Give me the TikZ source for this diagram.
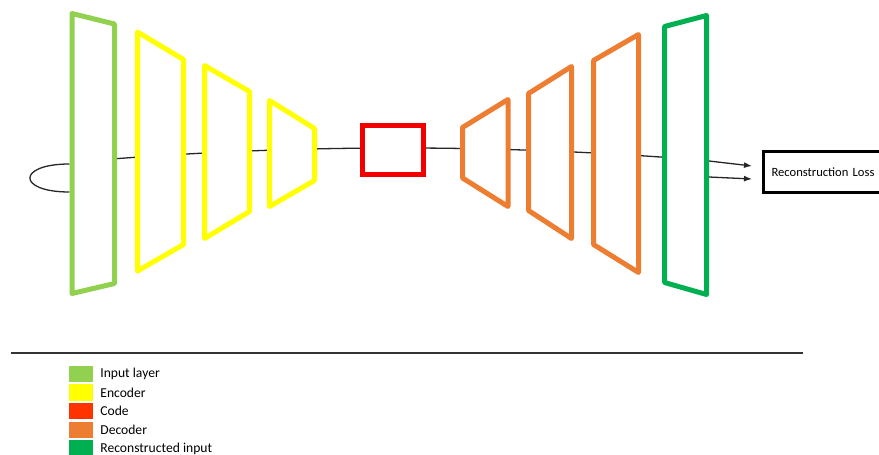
\documentclass[tikz,border=0pt]{standalone}
\usepackage{fontspec}
\setmainfont{Carlito}
\usetikzlibrary{arrows.meta}

\definecolor{inputgreen}{HTML}{92D050}
\definecolor{encyellow}{HTML}{FFFF00}
\definecolor{codered}{HTML}{F20000}
\definecolor{codeswatch}{HTML}{FF3300}
\definecolor{decorange}{HTML}{ED7D31}
\definecolor{outgreen}{HTML}{00B050}

\tikzset{
    layer/.style={line width=5pt, line join=round, fill=white},
    wire/.style={line width=1.3pt, draw=black!85},
    feed/.style={wire, -{Latex[length=8pt,width=6pt]}},
    codebox/.style={draw=codered, line width=5pt, fill=white, minimum width=61pt, minimum height=49pt, inner sep=0pt},
    lossbox/.style={draw=black, line width=3pt, minimum height=41pt, inner xsep=8.5pt, text width=110pt, align=left, anchor=west, font=\fontsize{12.6}{15}\selectfont},
    swatch/.style={minimum width=24pt, minimum height=16.5pt, inner sep=0pt},
    keytext/.style={anchor=west, inner sep=0pt, font=\fontsize{13.6}{16}\selectfont}
}

\begin{document}
\begin{tikzpicture}[x=1pt, y=-1pt]
    \useasboundingbox (0,0) rectangle (879,455);

    % signal path behind the layers
    \coordinate (in-c) at (72,162.3);
    \coordinate (out-c) at (664.5,157.3);
    \draw[wire] (in-c) .. controls (269,145) and (467,143.4) .. (out-c);

    % input loop
    \coordinate (in-a) at (69.5,164);
    \coordinate (in-b) at (69.5,192);
    \draw[wire] (in-a) .. controls (16.7,164) and (16.7,192) .. (in-b);

    % layers: name/colour/left/right/top-left/top-right/bottom-right/bottom-left
    \foreach \nm/\col/\xl/\xr/\ytl/\ytr/\ybr/\ybl in {
        inlayer/inputgreen/72/114.5/13.5/24/283.5/293.5,
        encA/encyellow/137.5/183.5/32/59.5/244.5/271,
        encB/encyellow/204.5/249.5/65.5/91.5/211.5/238.5,
        encC/encyellow/269.5/314.5/100.5/128.5/180.5/206.5,
        decA/decorange/462.5/508/127.5/99.5/206.5/178,
        decB/decorange/528.5/571.5/93.5/66.5/238.5/210.5,
        decC/decorange/593.5/638.5/60.5/34.5/272.5/244.5,
        outlayer/outgreen/664.5/706.5/26.5/15.5/294.5/282.5} {
        \draw[layer, draw=\col] (\xl,\ytl) -- (\xr,\ytr) -- (\xr,\ybr) -- (\xl,\ybl) -- cycle;
    }

    \node[codebox] (code) at (393,150) {};

    % loss
    \node[lossbox] (loss) at (761.5,172) {Reconstruction Loss};
    \coordinate (out-a) at (709,161);
    \coordinate (out-b) at (709,177);
    \draw[feed] (out-a) -- ([xshift=-9.5pt, yshift=6pt]loss.west);
    \draw[feed] (out-b) -- ([xshift=-9.5pt, yshift=-7pt]loss.west);

    % divider
    \coordinate (rule-l) at (11,353);
    \coordinate (rule-r) at (803,353);
    \draw[line width=1.5pt, draw=black!80] (rule-l) -- (rule-r);

    % legend
    \foreach \col/\txt [count=\i from 0] in {inputgreen/Input layer, encyellow/Encoder, codeswatch/Code, decorange/Decoder, outgreen/Reconstructed input} {
        \node[swatch, fill=\col] (key\i) at (81, {374+18.6*\i}) {};
        \node[keytext] (label\i) at ([xshift=7pt]key\i.east) {\txt};
    }
\end{tikzpicture}
\end{document}
